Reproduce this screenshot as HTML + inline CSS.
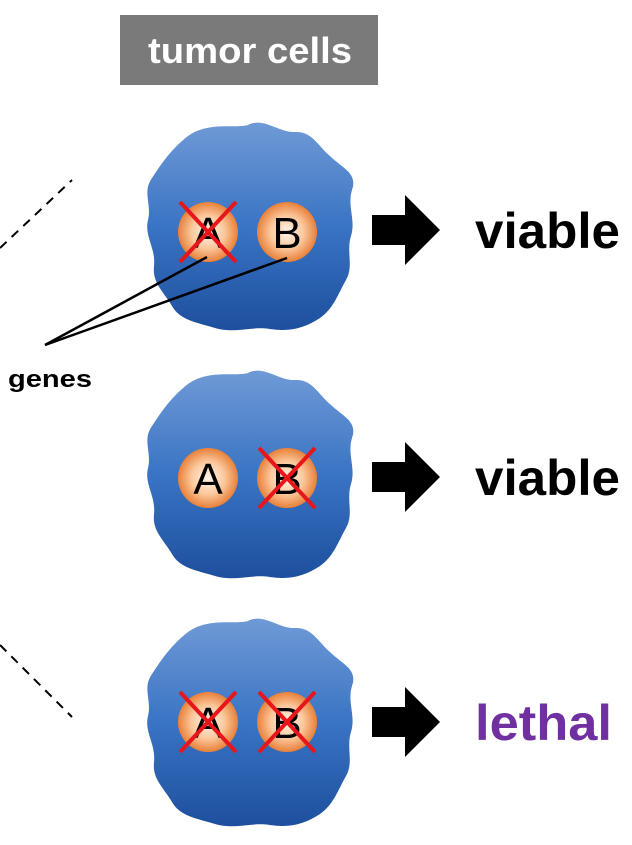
<!DOCTYPE html>
<html><head><meta charset="utf-8"><style>
html,body{margin:0;padding:0;background:#fff;width:632px;height:845px;overflow:hidden}
</style></head><body>
<svg width="632" height="845" viewBox="0 0 632 845" xmlns="http://www.w3.org/2000/svg" font-family="'Liberation Sans', sans-serif">
<defs>
<linearGradient id="cg" x1="0" y1="0" x2="0" y2="1">
<stop offset="0" stop-color="#6f9ad6"/><stop offset="0.5" stop-color="#3a74c4"/><stop offset="1" stop-color="#1d4f9e"/>
</linearGradient>
<radialGradient id="ng" cx="0.5" cy="0.5" r="0.5">
<stop offset="0" stop-color="#fff4ea"/><stop offset="0.55" stop-color="#fbc89c"/><stop offset="1" stop-color="#e8803a"/>
</radialGradient>
<path id="blob" d="M-62,-92 C-40,-108 -10,-98 0,-104 C15,-110 30,-95 45,-96 C62,-97 68,-82 80,-72 C92,-60 108,-55 102,-38 C97,-22 106,-8 101,8 C96,24 104,38 96,52 C88,66 84,80 70,90 C55,100 40,104 20,101 C0,98 -15,106 -35,100 C-55,94 -70,92 -78,78 C-86,64 -98,55 -96,38 C-94,20 -106,8 -102,-8 C-98,-24 -108,-36 -98,-50 C-90,-62 -80,-78 -62,-92 Z"/>
<g id="arrow"><polygon points="0,-15 33,-15 33,-35 68,0 33,35 33,15 0,15" fill="#000"/></g>
<g id="x"><line x1="-28" y1="-30" x2="28" y2="30" stroke="#e8151b" stroke-width="4"/><line x1="28" y1="-30" x2="-28" y2="30" stroke="#e8151b" stroke-width="4"/></g>
</defs>
<rect x="120" y="15" width="258" height="70" fill="#7a7a7a"/>
<text x="148" y="63" textLength="204" lengthAdjust="spacingAndGlyphs" font-size="36" font-weight="bold" fill="#fff">tumor cells</text>
<line x1="0" y1="248" x2="72" y2="180" stroke="#000" stroke-width="2" stroke-dasharray="9,7"/>
<line x1="0" y1="645" x2="72" y2="717" stroke="#000" stroke-width="2" stroke-dasharray="9,7"/>
<!-- cell 1 -->
<use href="#blob" x="250" y="228" fill="url(#cg)"/>
<circle cx="208" cy="232" r="30" fill="url(#ng)"/><circle cx="287" cy="232" r="30" fill="url(#ng)"/>
<text x="208" y="248" text-anchor="middle" font-size="44" fill="#000">A</text>
<text x="287" y="248" text-anchor="middle" font-size="44" fill="#000">B</text>
<use href="#x" x="208" y="232"/>
<line x1="207" y1="257" x2="45" y2="345" stroke="#000" stroke-width="2.5"/>
<line x1="287" y1="258" x2="45" y2="345" stroke="#000" stroke-width="2.5"/>
<text x="8" y="387" textLength="84" lengthAdjust="spacingAndGlyphs" font-size="24" font-weight="bold">genes</text>
<use href="#arrow" x="372" y="230"/>
<text x="475" y="248" textLength="145" lengthAdjust="spacingAndGlyphs" font-size="50" font-weight="bold">viable</text>
<!-- cell 2 -->
<use href="#blob" x="250" y="476" fill="url(#cg)"/>
<circle cx="208" cy="478" r="30" fill="url(#ng)"/><circle cx="287" cy="478" r="30" fill="url(#ng)"/>
<text x="208" y="494" text-anchor="middle" font-size="44">A</text>
<text x="287" y="494" text-anchor="middle" font-size="44">B</text>
<use href="#x" x="287" y="478"/>
<use href="#arrow" x="372" y="477"/>
<text x="475" y="495" textLength="145" lengthAdjust="spacingAndGlyphs" font-size="50" font-weight="bold">viable</text>
<!-- cell 3 -->
<use href="#blob" x="250" y="724" fill="url(#cg)"/>
<circle cx="208" cy="722" r="30" fill="url(#ng)"/><circle cx="287" cy="722" r="30" fill="url(#ng)"/>
<text x="208" y="738" text-anchor="middle" font-size="44">A</text>
<text x="287" y="738" text-anchor="middle" font-size="44">B</text>
<use href="#x" x="208" y="722"/><use href="#x" x="287" y="722"/>
<use href="#arrow" x="372" y="722"/>
<text x="475" y="740" textLength="137" lengthAdjust="spacingAndGlyphs" font-size="50" font-weight="bold" fill="#7030a0">lethal</text>
</svg>
</body></html>
